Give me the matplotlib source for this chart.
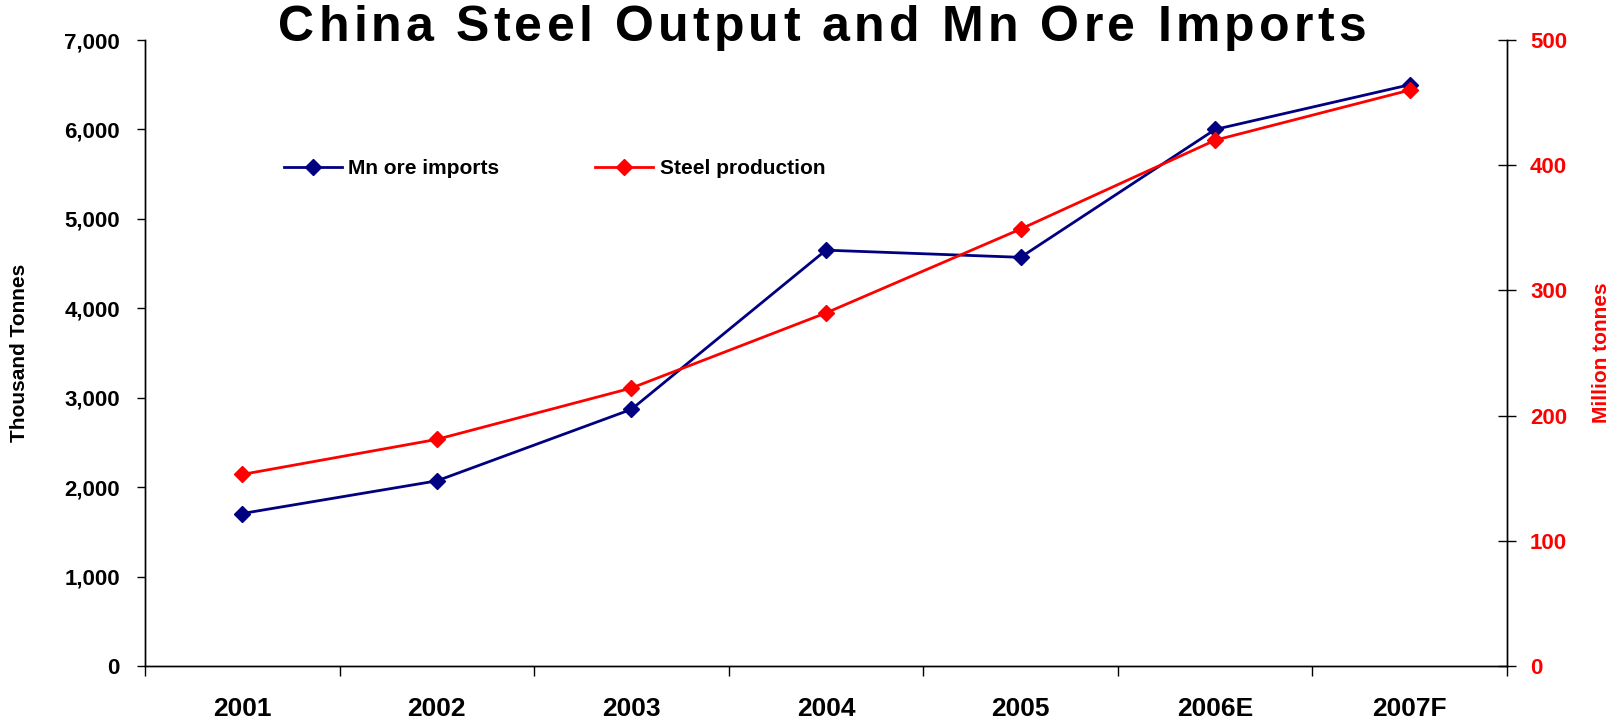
import matplotlib.pyplot as plt

# data
years = ['2001', '2002', '2003', '2004', '2005', '2006E', '2007F']
mn_imports = [1705, 2070, 2870, 4650, 4570, 6000, 6500]      # thousand tonnes
steel_prod = [153, 181, 222, 282, 349, 420, 460]             # million tonnes

title = 'China Steel Output and Mn Ore Imports'

navy = '#000080'
red = '#FF0000'

plt.rcParams['font.family'] = ['Liberation Sans', 'DejaVu Sans']
plt.rcParams['font.weight'] = 'bold'


def spaced_text(fig, s, xc, yc, track_px, **kw):
    """Draw s centred at (xc, yc) figure fraction with extra letter spacing."""
    r = fig.canvas.get_renderer()
    W = fig.bbox.width

    def width(txt):
        t = fig.text(0, 0, txt, **kw)
        w = t.get_window_extent(r).width
        t.remove()
        return w

    bar = width('||')
    adv = [width('|' + ch + '|') - bar for ch in s]
    total = sum(adv) + track_px * (len(s) - 1)
    x = xc * W - total / 2
    for ch, a in zip(s, adv):
        if ch != ' ':
            fig.text(x / W, yc, ch, ha='left', va='center', **kw)
        x += a + track_px


fig = plt.figure(figsize=(16.21, 7.25), dpi=100)
ax = fig.add_axes([0.0894, 0.0814, 0.8403, 0.8634])
ax2 = ax.twinx()

x = list(range(len(years)))
l1, = ax.plot(x, mn_imports, color=navy, lw=2, marker='D', ms=8,
              label='Mn ore imports')
l2, = ax2.plot(x, steel_prod, color=red, lw=2, marker='D', ms=8,
               label='Steel production')

# left axis
ax.set_xlim(-0.5, len(years) - 0.5)
ax.set_ylim(0, 7000)
ax.set_yticks(range(0, 7001, 1000))
ax.set_yticklabels([f'{v:,}' for v in range(0, 7001, 1000)])
ax.tick_params(axis='y', direction='out', length=6, width=1, pad=12,
               labelsize=16)
ax.set_ylabel('Thousand Tonnes', fontsize=15, fontweight='bold', labelpad=25)

# categories centred, ticks on the boundaries
ax.set_xticks(x)
ax.set_xticklabels(years)
ax.set_xticks([i - 0.5 for i in range(len(years) + 1)], minor=True)
ax.tick_params(axis='x', which='major', length=0, pad=22, labelsize=19)
ax.tick_params(axis='x', which='minor', direction='out', length=7, width=1)

# right axis
ax2.set_ylim(0, 500)
ax2.set_yticks(range(0, 501, 100))
ax2.tick_params(axis='y', direction='inout', length=13, width=1, pad=10,
                labelsize=16, labelcolor=red)
ax2.set_ylabel('Million tonnes', fontsize=15, fontweight='bold', color=red,
               labelpad=18)

for a in (ax, ax2):
    a.spines['top'].set_visible(False)
    for s in a.spines.values():
        s.set_linewidth(1)

spaced_text(fig, title, 0.507, 0.962, 4.2, fontsize=36, fontweight='bold')

ax.legend(handles=[l1, l2], loc='center left', bbox_to_anchor=(0.088, 0.795),
          ncol=2, frameon=False, fontsize=15, handlelength=2.8,
          handletextpad=0.3, columnspacing=4.6)

fig.savefig('out.png', dpi=100)
